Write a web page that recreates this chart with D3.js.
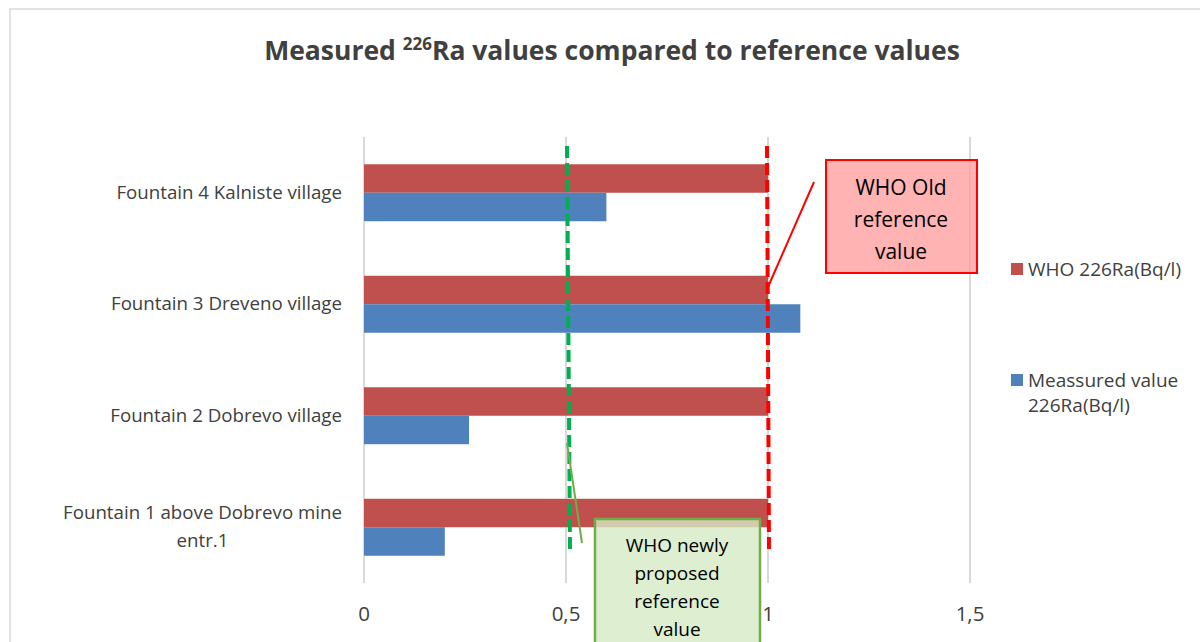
<!DOCTYPE html>
<html>
<head>
<meta charset="utf-8">
<script src="https://cdn.jsdelivr.net/npm/d3@7"></script>
<style>
  html, body { margin: 0; padding: 0; background: #fff; }
  svg { display: block; font-family: 'Open Sans', 'Noto Sans', sans-serif; }
</style>
</head>
<body>
<div id="chart"></div>
<script>
// data
const categories = [
  'Fountain 1 above Dobrevo mine\nentr.1',
  'Fountain 2 Dobrevo village',
  'Fountain 3 Dreveno village',
  'Fountain 4 Kalniste village'
]
const measuredValues = [0.2, 0.26, 1.08, 0.6]
const whoValues = [1, 1, 1, 1]
const xTicks = [0, 0.5, 1, 1.5]
const seriesNames = ['WHO 226Ra(Bq/l)', 'Meassured value\n226Ra(Bq/l)']
const seriesColors = ['#C0504D', '#4F81BD']
const oldReference = 1
const newReference = 0.5

const width = 1200,
  height = 642

const svg = d3
  .select('#chart')
  .append('svg')
  .attr('width', width)
  .attr('height', height)

// chart border
svg.append('rect')
  .attr('x', 10).attr('y', 9)
  .attr('width', 1210).attr('height', 660)
  .attr('fill', '#fff')
  .attr('stroke', '#D9D9D9')
  .attr('stroke-width', 1.5)

// title
const title = svg.append('text')
  .attr('x', 612).attr('y', 60)
  .attr('text-anchor', 'middle')
  .attr('font-size', 26.5)
  .attr('font-weight', 'bold')
  .attr('fill', '#404040')
title.append('tspan').text('Measured ')
title.append('tspan').attr('font-size', 17).attr('dy', -10).text('226')
title.append('tspan').attr('dy', 10).text('Ra values compared to reference values')

const x = d3.scaleLinear().domain([0, 1.5]).range([364, 970])

const y = d3.scaleBand()
  .domain(categories.slice().reverse())
  .range([137, 583])
  .paddingInner(0.489)
  .paddingOuter(0.2445)

const ySub = d3.scaleBand()
  .domain(['who', 'measured'])
  .range([0, y.bandwidth()])

// gridlines
svg.append('g')
  .selectAll('line')
  .data(xTicks)
  .enter()
  .append('line')
  .attr('x1', d => x(d)).attr('x2', d => x(d))
  .attr('y1', 137).attr('y2', 583)
  .attr('stroke', '#D9D9D9')
  .attr('stroke-width', 2)

// x tick labels
svg.append('g')
  .selectAll('text')
  .data(xTicks)
  .enter()
  .append('text')
  .attr('x', d => x(d))
  .attr('y', 621)
  .attr('text-anchor', 'middle')
  .attr('font-size', 20.5)
  .attr('fill', '#404040')
  .text(d => String(d).replace('.', ','))

// bars
const rows = categories.map((c, i) => ({
  name: c,
  who: whoValues[i],
  measured: measuredValues[i],
}))

const groups = svg.append('g')
  .selectAll('g')
  .data(rows)
  .enter()
  .append('g')
  .attr('transform', d => `translate(0, ${y(d.name)})`)

groups.append('rect')
  .attr('x', x(0))
  .attr('y', ySub('who'))
  .attr('width', d => x(d.who) - x(0))
  .attr('height', ySub.bandwidth())
  .attr('fill', seriesColors[0])

groups.append('rect')
  .attr('x', x(0))
  .attr('y', ySub('measured'))
  .attr('width', d => x(d.measured) - x(0))
  .attr('height', ySub.bandwidth())
  .attr('fill', seriesColors[1])

// category labels
const labelRight = 342
svg.append('g')
  .selectAll('text')
  .data(categories)
  .enter()
  .append('text')
  .attr('font-size', 18.7)
  .attr('fill', '#404040')
  .each(function(d) {
    const lines = d.split('\n')
    const t = d3.select(this)
    const cy = y(d) + y.bandwidth() / 2
    const lh = 28
    lines.forEach((line, i) => {
      t.append('tspan')
        .attr('y', cy + 6 + (i - (lines.length - 1) / 2) * lh)
        .text(line)
    })
    // centre lines on the widest one, right edge fixed
    let maxW = 0
    t.selectAll('tspan').each(function() {
      maxW = Math.max(maxW, this.getComputedTextLength())
    })
    t.selectAll('tspan')
      .attr('x', labelRight - maxW / 2)
      .attr('text-anchor', 'middle')
  })

// reference lines
const yTop = 146
svg.append('line')
  .attr('x1', x(newReference) + 1).attr('x2', x(newReference) + 4)
  .attr('y1', yTop).attr('y2', 549)
  .attr('stroke', '#00B050')
  .attr('stroke-width', 4)
  .attr('stroke-dasharray', '12,5')

svg.append('line')
  .attr('x1', x(oldReference) - 1).attr('x2', x(oldReference) + 1)
  .attr('y1', yTop).attr('y2', 551)
  .attr('stroke', '#FF0000')
  .attr('stroke-width', 4)
  .attr('stroke-dasharray', '12,5')

// old reference callout
svg.append('line')
  .attr('x1', 814).attr('y1', 182)
  .attr('x2', x(oldReference)).attr('y2', 287)
  .attr('stroke', '#FF0000')
  .attr('stroke-width', 2)

svg.append('rect')
  .attr('x', 826).attr('y', 160)
  .attr('width', 151).attr('height', 113)
  .attr('fill', 'rgba(255, 153, 153, 0.75)')
  .attr('stroke', '#FF0000')
  .attr('stroke-width', 2)

const oldText = svg.append('text')
  .attr('text-anchor', 'middle')
  .attr('font-size', 21)
  .attr('fill', '#000')
;['WHO Old', 'reference', 'value'].forEach((l, i) => {
  oldText.append('tspan').attr('x', 901).attr('y', 195 + i * 32).text(l)
})

// new reference callout
svg.append('line')
  .attr('x1', x(newReference) + 1).attr('y1', 443)
  .attr('x2', 582).attr('y2', 543)
  .attr('stroke', '#70AD47')
  .attr('stroke-width', 2)

svg.append('rect')
  .attr('x', 595).attr('y', 519)
  .attr('width', 165).attr('height', 140)
  .attr('fill', 'rgba(214, 234, 196, 0.8)')
  .attr('stroke', '#70AD47')
  .attr('stroke-width', 2.5)

const newText = svg.append('text')
  .attr('text-anchor', 'middle')
  .attr('font-size', 19)
  .attr('fill', '#000')
;['WHO newly', 'proposed', 'reference', 'value'].forEach((l, i) => {
  newText.append('tspan').attr('x', 677).attr('y', 552 + i * 28).text(l)
})

// legend
const legend = svg.append('g')
  .selectAll('g')
  .data(seriesNames)
  .enter()
  .append('g')
  .attr('transform', (d, i) => `translate(1011, ${263 + i * 111})`)

legend.append('rect')
  .attr('width', 12).attr('height', 12)
  .attr('fill', (d, i) => seriesColors[i])

legend.append('text')
  .attr('font-size', 19)
  .attr('fill', '#404040')
  .each(function(d) {
    d.split('\n').forEach((line, i) => {
      d3.select(this).append('tspan')
        .attr('x', 17).attr('y', 13 + i * 25)
        .text(line)
    })
  })
</script>
</body>
</html>
